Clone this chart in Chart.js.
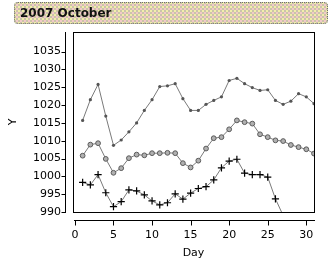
<!DOCTYPE html>
<html lang="en">
<head>
    <meta charset="UTF-8">
    <title>2007 October</title>
    <script src="https://cdn.jsdelivr.net/npm/chart.js@4.4.1/dist/chart.umd.min.js"></script>
    <style>
        body { margin: 0; background: #fff; }
        .wrap { position: relative; width: 331px; height: 261px; }
        .banner {
            position: absolute; left: 14px; top: 2px; width: 307px; height: 20px;
            border: 1px dotted #6e6e6e; border-radius: 4px;
            background-color: #cbc4aa;
            background-image:
                radial-gradient(circle, #f3c9c9 0.9px, transparent 1.1px),
                radial-gradient(circle, #f2eeaa 0.9px, transparent 1.1px);
            background-size: 4px 4px, 4px 4px;
            background-position: 0 0, 2px 2px;
            font: bold 12px "DejaVu Sans", sans-serif;
            color: #111; line-height: 21px; padding-left: 5px; box-sizing: content-box;
        }
        canvas { display: block; }
    </style>
</head>
<body>
    <div class="wrap">
        <canvas id="chart" width="331" height="261"></canvas>
        <div class="banner">2007 October</div>
    </div>

    <script>
        const days = [1, 2, 3, 4, 5, 6, 7, 8, 9, 10, 11, 12, 13, 14, 15, 16,
                      17, 18, 19, 20, 21, 22, 23, 24, 25, 26, 27, 28, 29, 30, 31];
        const xTicks = [0, 5, 10, 15, 20, 25, 30];
        const yTicks = [990, 995, 1000, 1005, 1010, 1015, 1020, 1025, 1030, 1035];

        const highValues = [1015.7, 1021.5, 1025.8, 1016.9, 1008.7, 1010.2, 1012.5, 1015.0, 1018.5, 1021.5,
                            1025.2, 1025.4, 1026.0, 1021.8, 1018.5, 1018.5, 1020.2, 1021.3, 1022.3, 1026.9,
                            1027.5, 1026.0, 1024.9, 1024.1, 1024.3, 1021.3, 1020.2, 1021.1, 1023.2, 1022.3, 1020.4];
        const meanValues = [1005.8, 1008.9, 1009.3, 1004.9, 1001.0, 1002.3, 1005.1, 1006.1, 1005.9, 1006.5,
                            1006.5, 1006.6, 1006.5, 1003.7, 1002.5, 1004.4, 1007.8, 1010.7, 1011.0, 1013.2,
                            1015.7, 1015.2, 1014.8, 1011.8, 1011.0, 1010.1, 1009.9, 1008.8, 1008.2, 1007.6, 1006.4];
        const lowValues = [998.3, 997.6, 1000.5, 995.4, 991.5, 992.9, 996.2, 995.9, 994.8, 993.1,
                           992.0, 992.6, 995.1, 993.6, 995.3, 996.6, 997.1, 999.0, 1002.4, 1004.3,
                           1004.8, 1000.9, 1000.5, 1000.5, 999.8, 993.7, 989.0];

        const toPoints = (values) => values.map((v, i) => ({ x: days[i], y: v }));

        // frame round the plot plus the detached axis lines with their tick marks
        const framePlugin = {
            id: 'frame',
            afterDraw(chart) {
                const { ctx, chartArea: ca, scales } = chart;
                ctx.save();
                ctx.strokeStyle = '#000';
                ctx.lineWidth = 1;
                ctx.strokeRect(ca.left + 0.5, ca.top + 0.5, ca.right - ca.left, ca.bottom - ca.top);

                const yAxisX = ca.left - 7.5;
                ctx.beginPath();
                ctx.moveTo(yAxisX, ca.top);
                ctx.lineTo(yAxisX, ca.bottom + 1);
                scales.y.ticks.forEach(t => {
                    const py = Math.round(scales.y.getPixelForValue(t.value)) + 0.5;
                    ctx.moveTo(yAxisX - 4, py);
                    ctx.lineTo(yAxisX, py);
                });
                const xAxisY = ca.bottom + 8.5;
                ctx.moveTo(ca.left + 1, xAxisY);
                ctx.lineTo(ca.right + 1, xAxisY);
                scales.x.ticks.forEach(t => {
                    const px = Math.round(scales.x.getPixelForValue(t.value)) + 0.5;
                    ctx.moveTo(px, xAxisY);
                    ctx.lineTo(px, xAxisY + 5);
                });
                ctx.stroke();
                ctx.restore();
            }
        };

        const font = { family: 'DejaVu Sans', size: 11 };
        const plain = (value) => String(value);

        new Chart(document.getElementById('chart'), {
            type: 'line',
            data: {
                datasets: [{
                    label: 'High',
                    data: toPoints(highValues),
                    borderColor: '#7a7a7a',
                    borderWidth: 1,
                    pointRadius: 1.6,
                    pointBackgroundColor: '#555',
                    pointBorderWidth: 0,
                    clip: 0,
                }, {
                    label: 'Mean',
                    data: toPoints(meanValues),
                    borderColor: '#7a7a7a',
                    borderWidth: 1,
                    pointRadius: 2.4,
                    pointBackgroundColor: '#b0b0b0',
                    pointBorderColor: '#5a5a5a',
                    pointBorderWidth: 1,
                    clip: 0,
                }, {
                    label: 'Low',
                    data: toPoints(lowValues),
                    borderColor: '#7a7a7a',
                    borderWidth: 1,
                    pointStyle: 'cross',
                    pointRadius: 3.6,
                    pointBorderColor: '#000',
                    pointBorderWidth: 1.2,
                    clip: 0,
                }],
            },
            options: {
                responsive: false,
                animation: false,
                layout: { padding: { left: 0, top: 32, right: 17, bottom: 0 } },
                elements: { line: { tension: 0 } },
                plugins: { legend: { display: false }, tooltip: { enabled: false } },
                scales: {
                    x: {
                        type: 'linear',
                        min: -0.25,
                        max: 31,
                        afterBuildTicks: (scale) => { scale.ticks = xTicks.map(v => ({ value: v })); },
                        afterFit: (scale) => { scale.height = 49; },
                        grid: { display: false, drawTicks: false },
                        border: { display: false },
                        ticks: { color: '#000', font: font, padding: 17, maxRotation: 0, callback: plain },
                        title: { display: true, text: 'Day', color: '#000', font: font, padding: { top: 0, bottom: 1 } },
                    },
                    y: {
                        min: 990,
                        max: 1040.5,
                        afterBuildTicks: (scale) => { scale.ticks = yTicks.map(v => ({ value: v })); },
                        afterFit: (scale) => { scale.width = 73; },
                        grid: { display: false, drawTicks: false },
                        border: { display: false },
                        ticks: { color: '#000', font: font, padding: 12, callback: plain },
                        title: { display: true, text: 'Y', color: '#000', font: font, padding: { top: 7, bottom: 0 } },
                    },
                },
            },
            plugins: [framePlugin],
        });
    </script>
</body>
</html>
